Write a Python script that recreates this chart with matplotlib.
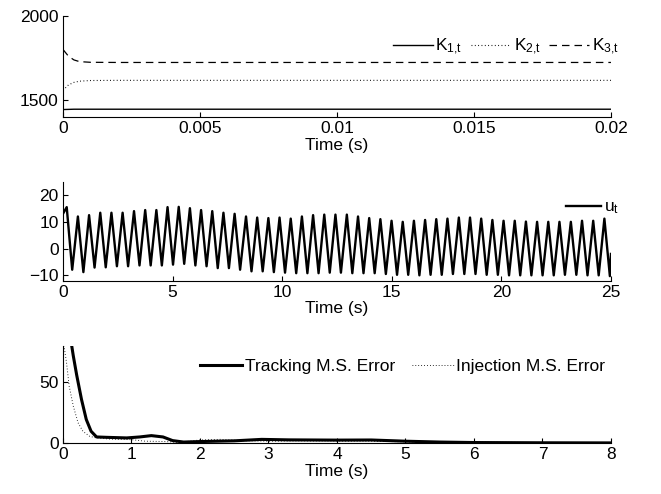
import matplotlib
matplotlib.use('Agg')
import matplotlib.pyplot as plt
from matplotlib.ticker import FormatStrFormatter

plt.rcParams['font.family'] = ['Liberation Sans', 'DejaVu Sans']
plt.rcParams['mathtext.default'] = 'regular'
plt.rcParams['font.size'] = 12.5

# top panel: gains
k_t = [0, 0.0002, 0.0004, 0.0006, 0.001, 0.002, 0.02]
k1 = [1444, 1445, 1446, 1446, 1446, 1446, 1446]
k2 = [1558, 1590, 1605, 1612, 1616, 1617, 1617]
k3 = [1800, 1760, 1738, 1728, 1724, 1723, 1723]

# middle panel: control signal extrema
peak_t = [0.17, 0.68, 1.19, 1.70, 2.21, 2.72, 3.24, 3.75, 4.26, 4.77, 5.28, 5.79, 6.30,
          6.81, 7.32, 7.83, 8.35, 8.86, 9.37, 9.88, 10.39, 10.90, 11.41, 11.92, 12.43,
          12.95, 13.46, 13.97, 14.48, 14.99, 15.50, 16.01, 16.52, 17.03, 17.54, 18.06,
          18.57, 19.08, 19.59, 20.10, 20.61, 21.12, 21.63, 22.14, 22.65, 23.17, 23.68,
          24.19, 24.70]
peak_u = [15.5, 12.0, 12.5, 13.4, 13.4, 13.4, 14.0, 14.4, 14.4, 15.5, 15.6, 15.1, 14.4,
          14.0, 13.4, 13.0, 12.0, 11.6, 11.4, 11.6, 11.2, 12.0, 12.5, 12.7, 12.7, 12.7,
          12.0, 11.4, 11.0, 10.4, 10.0, 10.4, 10.7, 11.0, 11.2, 11.6, 11.6, 11.2, 10.7,
          10.4, 10.4, 10.1, 10.0, 10.0, 10.0, 10.0, 10.4, 10.4, 11.2]
trough_t = [0.42, 0.93, 1.44, 1.95, 2.46, 2.97, 3.49, 4.00, 4.51, 5.02, 5.53, 6.04, 6.55,
            7.06, 7.57, 8.08, 8.60, 9.11, 9.62, 10.13, 10.64, 11.15, 11.66, 12.17, 12.68,
            13.20, 13.71, 14.22, 14.73, 15.24, 15.75, 16.26, 16.77, 17.28, 17.79, 18.31,
            18.82, 19.33, 19.84, 20.35, 20.86, 21.37, 21.88, 22.39, 22.90, 23.42, 23.93,
            24.44, 24.95]
trough_u = [-7.9, -8.8, -7.1, -7.0, -6.6, -6.6, -6.3, -6.3, -6.3, -6.0, -5.7, -6.3, -6.6,
            -7.3, -7.3, -7.9, -8.5, -8.5, -8.8, -9.0, -9.2, -9.2, -9.2, -9.0, -9.0, -9.2,
            -9.2, -9.2, -9.5, -9.8, -9.8, -10.0, -9.8, -9.8, -9.5, -9.5, -9.5, -9.8, -9.8,
            -10.0, -10.0, -10.0, -10.0, -10.0, -9.8, -9.8, -10.0, -10.0, -10.3]
u_start = (0.0, 13.0)
u_end = (25.0, -2.0)

# bottom panel: mean square errors
trk_t = [0.10, 0.15, 0.20, 0.27, 0.34, 0.41, 0.49, 0.63, 0.93, 1.12, 1.29, 1.46, 1.60,
         1.76, 2.0, 2.5, 2.9, 3.3, 4.0, 4.5, 5.0, 5.5, 6.0, 7.0, 8.0]
trk_e = [90, 72, 56, 36, 19.4, 9.7, 5.0, 4.7, 4.2, 5.0, 6.1, 5.0, 2.0, 0.8, 1.2, 1.8,
         3.0, 2.6, 2.4, 2.5, 1.5, 0.8, 0.4, 0.2, 0.1]
inj_t = [0.0, 0.02, 0.05, 0.09, 0.15, 0.22, 0.29, 0.39, 0.49, 0.7, 1.0, 1.2, 1.5, 1.7,
         2.0, 2.3, 2.6, 3.0, 3.5, 4.5, 5.0, 6.0, 7.0, 8.0]
inj_e = [90, 78, 67, 47, 30.5, 16.7, 9.7, 5.5, 4.2, 3.2, 2.8, 1.5, 1.2, 0.5, 2.5, 3.0,
         2.0, 1.5, 1.8, 1.5, 1.0, 0.6, 0.4, 0.3]

fig = plt.figure(figsize=(6.61, 4.94), dpi=100)
left, width = 0.0953, 0.829
ax1 = fig.add_axes([left, 0.7632, width, 0.205])
ax2 = fig.add_axes([left, 0.4318, width, 0.2004])
ax3 = fig.add_axes([left, 0.1032, width, 0.1964])

for ax in (ax1, ax2, ax3):
    ax.spines['top'].set_visible(False)
    ax.spines['right'].set_visible(False)
    ax.tick_params(direction='in', length=3.5, top=False, right=False, pad=3)
    ax.set_xlabel('Time (s)', labelpad=1)

# top
ax1.plot(k_t, k1, '-', color='black', lw=1.0, label='$K_{1{,}t}$')
ax1.plot(k_t, k2, color='black', lw=0.8, linestyle=(0, (0.8, 2.2)), label='$K_{2{,}t}$')
ax1.plot(k_t, k3, color='black', lw=0.9, linestyle=(0, (6, 4)), label='$K_{3{,}t}$')
ax1.set_xlim(0, 0.02)
ax1.set_ylim(1400, 2000)
ax1.set_xticks([0, 0.005, 0.01, 0.015, 0.02])
ax1.xaxis.set_major_formatter(FormatStrFormatter('%g'))
ax1.set_yticks([1500, 2000])
ax1.legend(loc='upper right', ncol=3, frameon=False, handlelength=2.3,
           handletextpad=0.15, columnspacing=0.5, borderaxespad=0.0,
           borderpad=0.0, bbox_to_anchor=(1.015, 0.79))

# middle
ut = [u_start[0]]
uv = [u_start[1]]
for tp, up, tt, ut_ in zip(peak_t, peak_u, trough_t, trough_u):
    ut += [tp, tt]
    uv += [up, ut_]
ut.append(u_end[0])
uv.append(u_end[1])
ax2.plot(ut, uv, '-', color='black', lw=1.7, solid_joinstyle='round', label='$u_t$')
ax2.set_xlim(0, 25)
ax2.set_ylim(-12, 25)
ax2.set_yticks([-10, 0, 10, 20])
ax2.set_xticks([0, 5, 10, 15, 20, 25])
ax2.legend(loc='upper right', frameon=False, handlelength=2.0, handletextpad=0.2,
           borderaxespad=0.0, borderpad=0.0, bbox_to_anchor=(1.015, 0.82))

# bottom
ax3.plot(trk_t, trk_e, '-', color='black', lw=2.2, label='Tracking M.S. Error')
ax3.plot(inj_t, inj_e, color='black', lw=0.7, linestyle=(0, (0.8, 2.2)),
         label='Injection M.S. Error')
ax3.set_xlim(0, 8)
ax3.set_ylim(0, 80)
ax3.set_yticks([0, 50])
ax3.set_xticks(range(0, 9))
ax3.legend(loc='upper right', ncol=2, frameon=False, handlelength=2.4,
           handletextpad=0.15, columnspacing=1.0, borderaxespad=0.0,
           borderpad=0.0, bbox_to_anchor=(0.99, 0.87))

fig.savefig('out.png', dpi=100)
plt.close(fig)
